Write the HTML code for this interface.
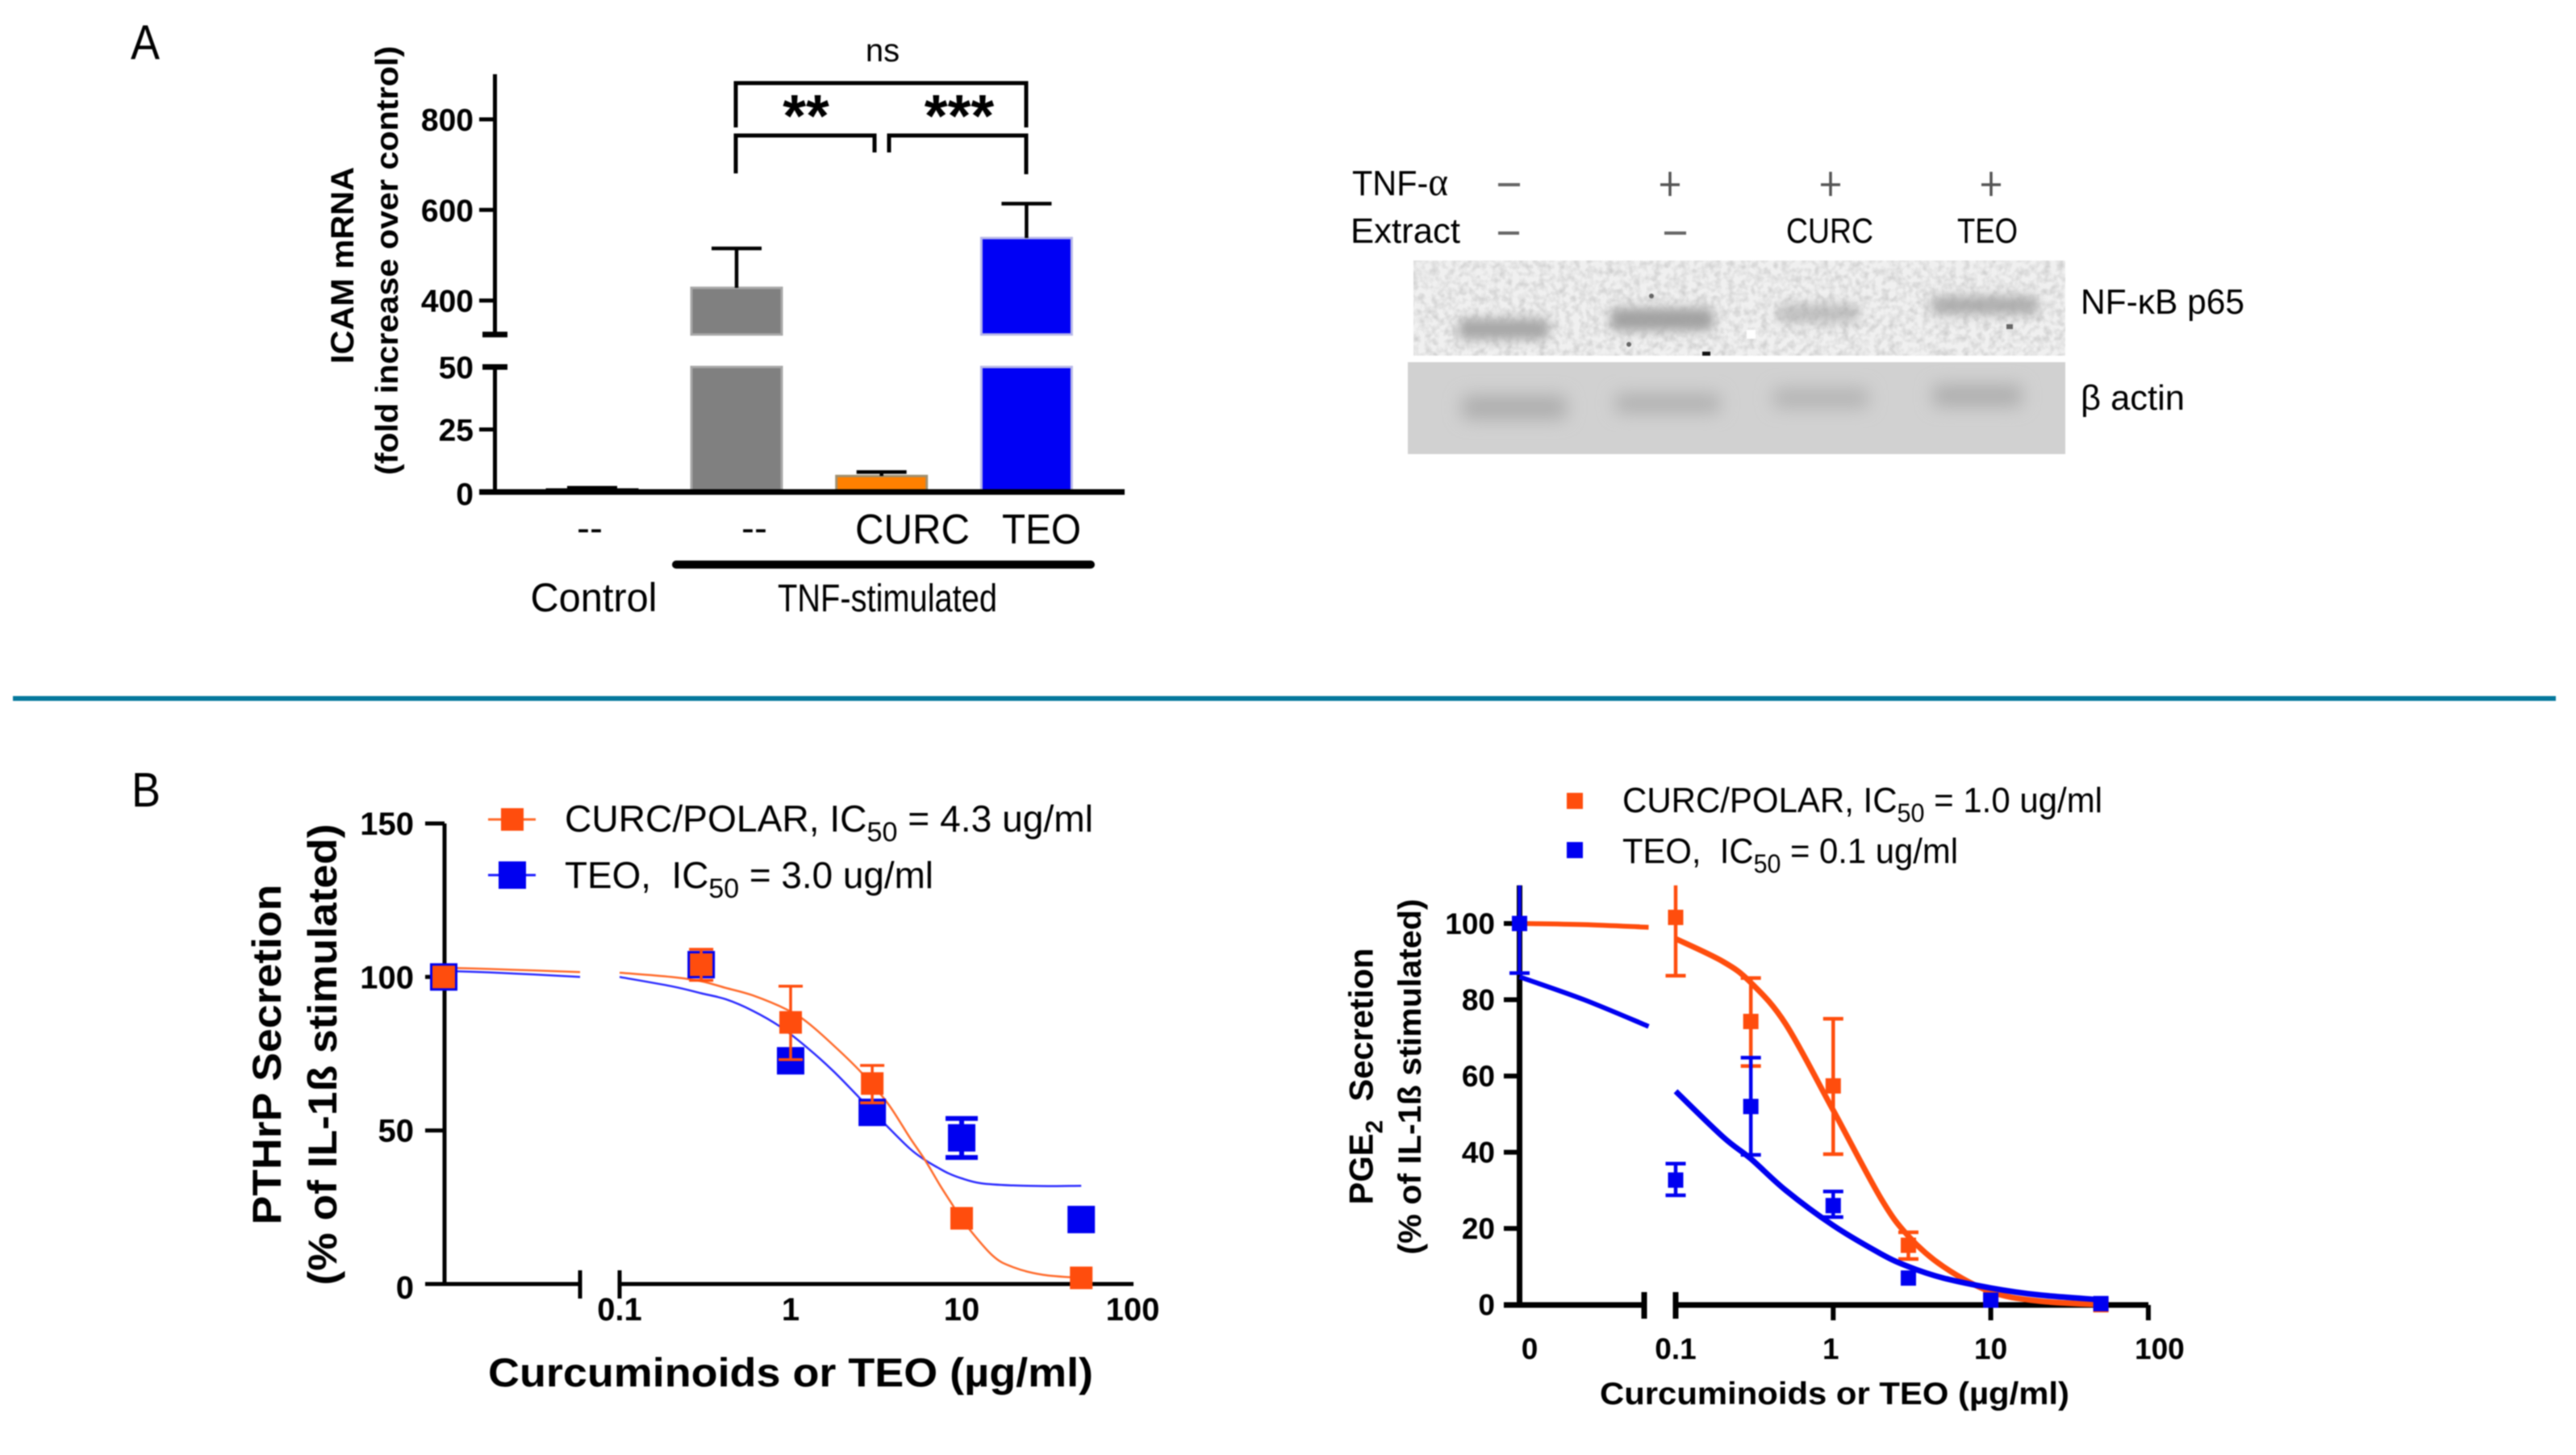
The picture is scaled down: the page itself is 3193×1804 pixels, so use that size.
<!DOCTYPE html>
<html lang="en">
<head>
<meta charset="utf-8">
<title>ICAM mRNA, NF-kB western blot, PTHrP and PGE2 dose-response</title>
<style>
html,body{margin:0;padding:0;background:#fff;}
svg{display:block;filter:blur(0.8px);}
text{font-family:"Liberation Sans",sans-serif;fill:#000;}
.b{font-weight:bold;}
</style>
</head>
<body>
<svg id="fig" xmlns="http://www.w3.org/2000/svg" width="3193" height="1804" viewBox="0 0 3193 1804">
<defs>
  <filter id="blurBand" x="-30%" y="-100%" width="160%" height="300%"><feGaussianBlur stdDeviation="7"></feGaussianBlur></filter>
  <filter id="blurBandWide" x="-30%" y="-100%" width="160%" height="300%"><feGaussianBlur stdDeviation="11"></feGaussianBlur></filter>
  <filter id="grain" x="0" y="0" width="100%" height="100%">
    <feTurbulence type="fractalNoise" baseFrequency="0.12" numOctaves="2" seed="4"></feTurbulence>
    <feColorMatrix type="matrix" values="0 0 0 0 0.4  0 0 0 0 0.4  0 0 0 0 0.4  1.6 0 0 0 -0.6"></feColorMatrix>
  </filter>
  <clipPath id="clipTop"><rect x="1752" y="323" width="808" height="118"></rect></clipPath>
  <clipPath id="clipBot"><rect x="1745" y="449" width="815" height="114"></rect></clipPath>
</defs>

<rect x="0" y="0" width="3193" height="1804" fill="#ffffff"></rect>
<text x="162" y="73" font-size="60" textLength="36" lengthAdjust="spacingAndGlyphs">A</text>
<text x="163" y="1000" font-size="60" textLength="36" lengthAdjust="spacingAndGlyphs">B</text>
<rect x="16" y="863" width="3152" height="6" fill="#04789c"></rect>

<!-- Panel A bar chart -->
<g id="chartA">
  <text class="b" transform="translate(438,329) rotate(-90)" text-anchor="middle" font-size="40" textLength="244" lengthAdjust="spacingAndGlyphs">ICAM mRNA</text>
  <text class="b" transform="translate(493,323) rotate(-90)" text-anchor="middle" font-size="39" textLength="532" lengthAdjust="spacingAndGlyphs">(fold increase over control)</text>
  <path d="M912 158V103H1272V158" fill="none" stroke="#000" stroke-width="5"></path>
  <path d="M912 215V168H1084V189" fill="none" stroke="#000" stroke-width="5"></path>
  <path d="M1102 189V168H1272V216" fill="none" stroke="#000" stroke-width="5"></path>
  <text x="1094" y="76" text-anchor="middle" font-size="40">ns</text>
  <text class="b" x="999" y="169" text-anchor="middle" font-size="74">**</text>
  <text class="b" x="1189" y="169" text-anchor="middle" font-size="74">***</text>
  <text x="731" y="671" text-anchor="middle" font-size="48">--</text>
  <text x="935" y="671" text-anchor="middle" font-size="48">--</text>
  <text x="1131" y="674" text-anchor="middle" font-size="52" textLength="142" lengthAdjust="spacingAndGlyphs">CURC</text>
  <text x="1291" y="674" text-anchor="middle" font-size="52" textLength="98" lengthAdjust="spacingAndGlyphs">TEO</text>
  <rect x="833" y="695" width="524" height="10" rx="5" fill="#000"></rect>
  <text x="736" y="758" text-anchor="middle" font-size="50" textLength="157" lengthAdjust="spacingAndGlyphs">Control</text>
  <text x="1100" y="758" text-anchor="middle" font-size="48" textLength="272" lengthAdjust="spacingAndGlyphs">TNF-stimulated</text>
</g>

<!-- Panel A western blot -->
<g id="blot">
  <text x="1676" y="242" font-size="44" textLength="119" lengthAdjust="spacingAndGlyphs">TNF-<tspan font-family="Liberation Serif, serif" font-size="50">α</tspan></text>
  <text x="1674" y="301" font-size="44" textLength="136" lengthAdjust="spacingAndGlyphs">Extract</text>
  <rect x="1857" y="227" width="27" height="4" fill="#666"></rect>
  <path d="M2058 229H2082M2070 213V243" stroke="#555" stroke-width="3.5"></path>
  <path d="M2257 229H2281M2269 213V243" stroke="#555" stroke-width="3.5"></path>
  <path d="M2456 229H2480M2468 213V243" stroke="#555" stroke-width="3.5"></path>
  <rect x="1857" y="287" width="26" height="4" fill="#666"></rect>
  <rect x="2063" y="287" width="27" height="4" fill="#666"></rect>
  <text x="2214" y="301" font-size="44" textLength="108" lengthAdjust="spacingAndGlyphs">CURC</text>
  <text x="2426" y="301" font-size="44" textLength="75" lengthAdjust="spacingAndGlyphs">TEO</text>

  <g clip-path="url(#clipTop)">
    <rect x="1752" y="323" width="808" height="118" fill="#f0f0f0"></rect>
    <rect x="1808" y="395" width="112" height="26" rx="6" fill="#a6a6a6" filter="url(#blurBand)"></rect>
    <rect x="1996" y="382" width="128" height="28" rx="6" fill="#a0a0a0" filter="url(#blurBand)"></rect>
    <rect x="2204" y="377" width="100" height="23" rx="6" fill="#c0c0c0" filter="url(#blurBand)"></rect>
    <rect x="2394" y="367" width="132" height="23" rx="6" fill="#adadad" filter="url(#blurBand)"></rect>
    <rect x="1752" y="323" width="808" height="118" filter="url(#grain)" opacity="0.6"></rect>
    <rect x="2110" y="436" width="10" height="5" fill="#111"></rect>
    <rect x="2165" y="409" width="11" height="11" fill="#fff"></rect>
    <circle cx="2047" cy="367" r="3" fill="#666"></circle>
    <circle cx="2019" cy="427" r="3" fill="#666"></circle>
    <rect x="2487" y="402" width="8" height="6" fill="#666"></rect>
  </g>
  <g clip-path="url(#clipBot)">
    <rect x="1745" y="449" width="815" height="114" fill="#d1d1d1"></rect>
    <rect x="1812" y="490" width="130" height="30" rx="8" fill="#aeaeae" filter="url(#blurBandWide)"></rect>
    <rect x="2002" y="488" width="130" height="24" rx="6" fill="#b0b0b0" filter="url(#blurBandWide)"></rect>
    <rect x="2198" y="481" width="118" height="25" rx="6" fill="#b4b4b4" filter="url(#blurBandWide)"></rect>
    <rect x="2396" y="477" width="110" height="27" rx="6" fill="#adadad" filter="url(#blurBandWide)"></rect>
  </g>
  <text x="2579" y="389" font-size="44" textLength="203" lengthAdjust="spacingAndGlyphs">NF-κB p65</text>
  <text x="2579" y="508" font-size="44" textLength="129" lengthAdjust="spacingAndGlyphs">β actin</text>
</g>

<!-- Panel B left: PTHrP -->
<g id="chartB1">
  <text class="b" transform="translate(348,1307.5) rotate(-90)" text-anchor="middle" font-size="50" textLength="422" lengthAdjust="spacingAndGlyphs">PTHrP Secretion</text>
  <text class="b" transform="translate(417,1307.5) rotate(-90)" text-anchor="middle" font-size="50" textLength="572" lengthAdjust="spacingAndGlyphs">(% of IL-1ß stimulated)</text>
  <text class="b" x="980" y="1719" text-anchor="middle" font-size="50" textLength="750" lengthAdjust="spacingAndGlyphs">Curcuminoids or TEO (µg/ml)</text>
  <path d="M605 1016H664" stroke="#ff6a2a" stroke-width="3"></path>
  <rect x="621" y="1002" width="28" height="28" fill="#ff4d0d"></rect>
  <text x="700" y="1031" font-size="46" textLength="655" lengthAdjust="spacingAndGlyphs">CURC/POLAR, IC<tspan dy="12" font-size="34">50</tspan><tspan dy="-12"> = 4.3 ug/ml</tspan></text>
  <path d="M605 1085H664" stroke="#2020ff" stroke-width="3"></path>
  <rect x="618" y="1068" width="34" height="34" fill="#0000f0"></rect>
  <text x="700" y="1101" font-size="46" textLength="457" lengthAdjust="spacingAndGlyphs">TEO,&#160; IC<tspan dy="12" font-size="34">50</tspan><tspan dy="-12"> = 3.0 ug/ml</tspan></text>
</g>

<!-- Panel B right: PGE2 -->
<g id="chartB2">
  <text class="b" transform="translate(1701.5,1334.5) rotate(-90)" text-anchor="middle" font-size="42" textLength="318" lengthAdjust="spacingAndGlyphs">PGE<tspan dy="12" font-size="30">2</tspan><tspan dy="-12">&#160; Secretion</tspan></text>
  <text class="b" transform="translate(1761,1335) rotate(-90)" text-anchor="middle" font-size="40" textLength="441" lengthAdjust="spacingAndGlyphs">(% of IL-1ß stimulated)</text>
  <text class="b" x="2274" y="1741" text-anchor="middle" font-size="39" textLength="582" lengthAdjust="spacingAndGlyphs">Curcuminoids or TEO (µg/ml)</text>
  <rect x="1942" y="983" width="20" height="20" fill="#ff4d0d"></rect>
  <text x="2011" y="1007" font-size="44" textLength="595" lengthAdjust="spacingAndGlyphs">CURC/POLAR, IC<tspan dy="12" font-size="32">50</tspan><tspan dy="-12"> = 1.0 ug/ml</tspan></text>
  <rect x="1942" y="1044" width="20" height="20" fill="#0000f0"></rect>
  <text x="2011" y="1070" font-size="44" textLength="416" lengthAdjust="spacingAndGlyphs">TEO,&#160; IC<tspan dy="12" font-size="32">50</tspan><tspan dy="-12"> = 0.1 ug/ml</tspan></text>
</g>
</svg>

<script>
/* ---------- Panel A data ---------- */
const barCategories = ['control', 'tnf', 'curc', 'teo'];
const barValues = [1, 428, 6.4, 538];
const barErrorTops = [1.7, 515, 8, 614];
const barFillNames = ['black', 'gray', 'orange', 'blue'];
const barUpperTicks = [400, 600, 800];
const barLowerTicks = [0, 25, 50];

/* ---------- PTHrP data ---------- */
const pthrpDoses = [0, 0.3, 1, 3, 10, 50];
const pthrpCurcValues = [100, 104, 85.2, 65.3, 21.4, 2];
const pthrpTeoValues = [100, 104, 72.7, 55.9, 47.6, 21];
const pthrpCurcErrDoses = [0.3, 1, 3];
const pthrpCurcErrTop = [109, 97, 71.2];
const pthrpCurcErrBottom = [98.9, 73.1, 59];
const pthrpTeoErrDoses = [10];
const pthrpTeoErrTop = [53.9];
const pthrpTeoErrBottom = [41.2];
const pthrpCurcCurveLeftDoses = [0, 0.02, 0.04, 0.06];
const pthrpCurcCurveLeftValues = [103, 102.6, 102.1, 101.6];
const pthrpTeoCurveLeftDoses = [0, 0.02, 0.04, 0.06];
const pthrpTeoCurveLeftValues = [102, 101.5, 100.8, 100];
const pthrpCurcCurveDoses = [0.1, 0.2, 0.3, 0.42, 0.6, 0.95, 1.24, 1.8, 2.6, 3.7, 5, 6.1, 7.5, 8.9, 10, 15, 20, 30, 50];
const pthrpCurcCurveValues = [101.4, 100, 98.6, 96.4, 94, 89.4, 85.4, 77.5, 68.8, 58.8, 47.5, 40.4, 32, 25.5, 21, 9.5, 5.5, 3, 2];
const pthrpTeoCurveDoses = [0.1, 0.2, 0.3, 0.42, 0.6, 0.865, 1.25, 1.78, 2.5, 3.68, 5, 6.1, 7.2, 8.4, 10, 13, 20, 32, 50];
const pthrpTeoCurveValues = [100, 97, 94.7, 92.7, 89, 83.9, 77, 69.3, 60.9, 51.3, 44, 40.4, 38, 36, 34.4, 32.8, 32.1, 31.9, 32];
const pthrpYTicks = [0, 50, 100, 150];
const pthrpXTicks = ['0.1', '1', '10', '100'];

/* ---------- PGE2 data ---------- */
const pge2CurcDoses = [0.1, 0.3, 1, 3, 10, 50];
const pge2CurcValues = [101.6, 74.3, 57.4, 15.6, 1.5, 0];
const pge2TeoDoses = [0, 0.1, 0.3, 1, 3, 10, 50];
const pge2TeoValues = [100, 32.7, 52, 26, 7, 1.2, 0.3];
const pge2CurcErrDoses = [0.1, 0.3, 1, 3];
const pge2CurcErrTop = [110, 85.7, 75, 19];
const pge2CurcErrBottom = [86.3, 62.6, 39.5, 12];
const pge2TeoErrDoses = [0, 0.1, 0.3, 1];
const pge2TeoErrTop = [110, 37, 64.8, 29.7];
const pge2TeoErrBottom = [87, 28.7, 39.3, 23];
const pge2CurcCurveLeftDoses = [0, 0.03, 0.06];
const pge2CurcCurveLeftValues = [100, 99.7, 99];
const pge2TeoCurveLeftDoses = [0, 0.03, 0.06];
const pge2TeoCurveLeftValues = [86, 80, 73];
const pge2CurcCurveDoses = [0.1, 0.2, 0.3, 0.5, 1, 2, 3, 5, 10, 20, 50];
const pge2CurcCurveValues = [96, 90, 84.5, 73.6, 51, 28, 18, 10, 3.4, 1, 0];
const pge2TeoCurveDoses = [0.1, 0.2, 0.3, 0.5, 1, 2, 3, 5, 10, 20, 50];
const pge2TeoCurveValues = [56, 44, 38.3, 30, 20.8, 13.4, 10, 7, 4.4, 2.6, 1.3];
const pge2YTicks = [0, 20, 40, 60, 80, 100];
const pge2XTicks = ['0.1', '1', '10', '100'];

/* ---------- helpers ---------- */
const NS = 'http://www.w3.org/2000/svg';
function add(tag, parent, attrs, text) {
  const e = document.createElementNS(NS, tag);
  for (const k in attrs) e.setAttribute(k, attrs[k]);
  if (text !== undefined) e.textContent = text;
  parent.appendChild(e);
  return e;
}
function smoothPath(pts) {
  let d = 'M' + pts[0][0].toFixed(1) + ' ' + pts[0][1].toFixed(1);
  for (let i = 0; i < pts.length - 1; i++) {
    const p0 = pts[Math.max(i - 1, 0)], p1 = pts[i], p2 = pts[i + 1], p3 = pts[Math.min(i + 2, pts.length - 1)];
    const c1x = p1[0] + (p2[0] - p0[0]) / 6, c1y = p1[1] + (p2[1] - p0[1]) / 6;
    const c2x = p2[0] - (p3[0] - p1[0]) / 6, c2y = p2[1] - (p3[1] - p1[1]) / 6;
    d += 'C' + c1x.toFixed(1) + ' ' + c1y.toFixed(1) + ' ' + c2x.toFixed(1) + ' ' + c2y.toFixed(1) + ' ' + p2[0].toFixed(1) + ' ' + p2[1].toFixed(1);
  }
  return d;
}
function drawAxisPath(parent, d, width, name) {
  const a = add('path', parent, { d: d, fill: 'none', stroke: '#000', 'stroke-width': width });
  
  
  return a;
}
function drawTickLabel(parent, x, y, anchor, size, label, name) {
  const t = add('text', parent, { x: x, y: y, 'text-anchor': anchor, 'font-size': size, 'font-weight': 'bold' }, label);
  
  
  return t;
}
function drawCurve(parent, doses, values, xf, yf, color, width, name) {
  const pts = doses.map(function (d, i) { return [xf(d), yf(values[i])]; });
  const c = add('path', parent, { d: smoothPath(pts), fill: 'none', stroke: color, 'stroke-width': width });
  
  
}
function drawError(parent, x, yTop, yBottom, capW, color, width, topCap, name) {
  let d = 'M' + x + ' ' + yTop + 'V' + yBottom + 'M' + (x - capW / 2) + ' ' + yBottom + 'h' + capW;
  if (topCap) d += 'M' + (x - capW / 2) + ' ' + yTop + 'h' + capW;
  const e = add('path', parent, { d: d, fill: 'none', stroke: color, 'stroke-width': width });
  
  
}
function drawPoint(parent, x, y, size, color, name) {
  const r = add('rect', parent, { x: x - size / 2, y: y - size / 2, width: size, height: size, fill: color });
  
  
}

/* ---------- Panel A ---------- */
(function () {
  const g = document.getElementById('chartA');
  const upperFloor = 325;
  const yA = function (v) { return v <= 50 ? 610 - v * 3.1 : 148 + (800 - v) * 0.5615; };
  const xA = function (i) { return i === 0 ? 734 : 913 + (i - 1) * 179.7; };
  const fills = { black: '#000000', gray: '#808080', orange: '#ff8000', blue: '#0000f5' };
  const edges = { black: '#000000', gray: '#a8a8a8', orange: '#a09070', blue: '#b8b8e8' };
  barValues.forEach(function (v, i) {
    const name = barCategories[i];
    const fill = fills[barFillNames[i]], edge = edges[barFillNames[i]];
    const lowTop = yA(Math.min(v, 50));
    const low = add('rect', g, { x: xA(i) - 56, y: lowTop, width: 112, height: 610 - lowTop, fill: fill, stroke: edge, 'stroke-width': 3 });
    
    
    if (v > 50) {
      const up = add('rect', g, { x: xA(i) - 56, y: yA(v), width: 112, height: yA(upperFloor) - yA(v), fill: fill, stroke: edge, 'stroke-width': 3 });
      
      
    }
    const topY = yA(barErrorTops[i]);
    const err = add('path', g, { d: 'M' + xA(i) + ' ' + yA(v) + 'V' + topY + 'M' + (xA(i) - 31) + ' ' + topY + 'h62', fill: 'none', stroke: '#000', 'stroke-width': 4.5 });
    
    
  });
  drawAxisPath(g, 'M613.5 92V' + yA(upperFloor), 5, 'y-axis-upper');
  drawAxisPath(g, 'M613.5 ' + yA(50) + 'V610', 5, 'y-axis-lower');
  drawAxisPath(g, 'M594 610H1394', 7, 'x-axis');
  drawAxisPath(g, 'M598 ' + yA(upperFloor) + 'H629', 7, 'y-axis-break-upper');
  barUpperTicks.forEach(function (t) {
    drawAxisPath(g, 'M594 ' + yA(t) + 'H613', 5, 'y-tick-' + t);
    drawTickLabel(g, 587, yA(t) + 14, 'end', 39, String(t), 'y-tick-label-' + t);
  });
  barLowerTicks.forEach(function (t) {
    drawAxisPath(g, t === 50 ? 'M598 ' + yA(t) + 'H629' : 'M594 ' + yA(t) + 'H613', t === 50 ? 7 : 5, 'y-tick-' + t);
    drawTickLabel(g, 587, yA(t) + 14 + (t === 0 ? 2 : 0), 'end', 39, String(t), 'y-tick-label-' + t);
  });
})();

/* ---------- PTHrP ---------- */
(function () {
  const g = document.getElementById('chartB1');
  const yB = function (v) { return 1592 - v * 3.807; };
  const xB = function (d) { return d < 0.1 ? 550 + d / 0.06 * 169 : 768 + Math.log10(d / 0.1) * 212; };
  const orange = '#ff4d0d', blue = '#0000f0';
  drawAxisPath(g, 'M551 ' + yB(150) + 'V1592', 5, 'y-axis');
  drawAxisPath(g, 'M527 1592H719', 5, 'x-axis-left-segment');
  drawAxisPath(g, 'M768 1592H1405', 5, 'x-axis-right-segment');
  drawAxisPath(g, 'M719 1575V1610', 5, 'x-axis-break-tick-left');
  drawAxisPath(g, 'M768 1575V1610', 5, 'x-axis-break-tick-right');
  pthrpYTicks.forEach(function (t) {
    drawAxisPath(g, 'M527 ' + yB(t) + 'H551', 5, 'y-tick-' + t);
    drawTickLabel(g, 513, yB(t) + 14 + (t === 0 ? 4 : 0), 'end', 40, String(t), 'y-tick-label-' + t);
  });
  pthrpXTicks.forEach(function (t) {
    drawTickLabel(g, xB(parseFloat(t)), 1637, 'middle', 40, t, 'x-tick-label-' + t);
  });
  drawCurve(g, pthrpTeoCurveLeftDoses, pthrpTeoCurveLeftValues, xB, yB, '#2a2aff', 2.5, 'teo-fit-curve-left');
  drawCurve(g, pthrpCurcCurveLeftDoses, pthrpCurcCurveLeftValues, xB, yB, '#ff6a2a', 2.5, 'curc-fit-curve-left');
  drawCurve(g, pthrpTeoCurveDoses, pthrpTeoCurveValues, xB, yB, '#2a2aff', 2.5, 'teo-fit-curve');
  drawCurve(g, pthrpCurcCurveDoses, pthrpCurcCurveValues, xB, yB, '#ff6a2a', 2.5, 'curc-fit-curve');
  pthrpTeoErrDoses.forEach(function (d, i) {
    drawError(g, xB(d), yB(pthrpTeoErrTop[i]), yB(pthrpTeoErrBottom[i]), 40, blue, 6, true, 'teo-error-bar-' + d);
  });
  pthrpDoses.forEach(function (d, i) {
    drawPoint(g, xB(d), yB(pthrpTeoValues[i]), 34, blue, 'teo-point-' + d);
  });
  pthrpDoses.forEach(function (d, i) {
    drawPoint(g, xB(d), yB(pthrpCurcValues[i]), 28, orange, 'curc-point-' + d);
  });
  pthrpCurcErrDoses.forEach(function (d, i) {
    drawError(g, xB(d), yB(pthrpCurcErrTop[i]), yB(pthrpCurcErrBottom[i]), 30, orange, 3.5, true, 'curc-error-bar-' + d);
  });
})();

/* ---------- PGE2 ---------- */
(function () {
  const g = document.getElementById('chartB2');
  const yP = function (v) { return 1617.7 - v * 4.727; };
  const xP = function (d) { return d < 0.1 ? 1883.5 + d / 0.06 * 160 : 2077 + Math.log10(d / 0.1) * 195.3; };
  const orange = '#ff4d0d', blue = '#0000f0';
  drawAxisPath(g, 'M1883.5 ' + yP(110) + 'V1618', 7, 'y-axis');
  drawAxisPath(g, 'M1864 1618H2038', 7, 'x-axis-left-segment');
  drawAxisPath(g, 'M2077 1618H2663', 7, 'x-axis-right-segment');
  drawAxisPath(g, 'M2038 1602V1635', 7, 'x-axis-break-tick-left');
  drawAxisPath(g, 'M2077 1602V1635', 7, 'x-axis-break-tick-right');
  pge2YTicks.forEach(function (t) {
    drawAxisPath(g, 'M1864 ' + yP(t) + 'H1884', 6, 'y-tick-' + t);
    drawTickLabel(g, 1853, yP(t) + 13, 'end', 37, String(t), 'y-tick-label-' + t);
  });
  pge2XTicks.forEach(function (t) {
    const v = parseFloat(t);
    if (v > 0.1) drawAxisPath(g, 'M' + xP(v) + ' 1618V1637', 6, 'x-tick-' + t);
    drawTickLabel(g, xP(v) + (v === 100 ? 14 : v === 1 ? -3 : 0), 1685, 'middle', 37, t, 'x-tick-label-' + t);
  });
  drawTickLabel(g, 1896, 1685, 'middle', 37, '0', 'x-tick-label-0');
  drawCurve(g, pge2CurcCurveLeftDoses, pge2CurcCurveLeftValues, xP, yP, orange, 6, 'curc-fit-curve-left');
  drawCurve(g, pge2TeoCurveLeftDoses, pge2TeoCurveLeftValues, xP, yP, blue, 6, 'teo-fit-curve-left');
  pge2CurcErrDoses.forEach(function (d, i) {
    drawError(g, xP(d), yP(pge2CurcErrTop[i]), yP(pge2CurcErrBottom[i]), 25, orange, 4.5, pge2CurcErrTop[i] < 110, 'curc-error-bar-' + d);
  });
  pge2CurcDoses.forEach(function (d, i) {
    drawPoint(g, xP(d), yP(pge2CurcValues[i]), 19, orange, 'curc-point-' + d);
  });
  drawCurve(g, pge2CurcCurveDoses, pge2CurcCurveValues, xP, yP, orange, 7, 'curc-fit-curve');
  drawCurve(g, pge2TeoCurveDoses, pge2TeoCurveValues, xP, yP, blue, 7, 'teo-fit-curve');
  pge2TeoErrDoses.forEach(function (d, i) {
    drawError(g, xP(d), yP(pge2TeoErrTop[i]), yP(pge2TeoErrBottom[i]), 25, blue, 4.5, pge2TeoErrTop[i] < 110, 'teo-error-bar-' + d);
  });
  pge2TeoDoses.forEach(function (d, i) {
    drawPoint(g, xP(d), yP(pge2TeoValues[i]), 19, blue, 'teo-point-' + d);
  });
})();
</script>
</body>
</html>
